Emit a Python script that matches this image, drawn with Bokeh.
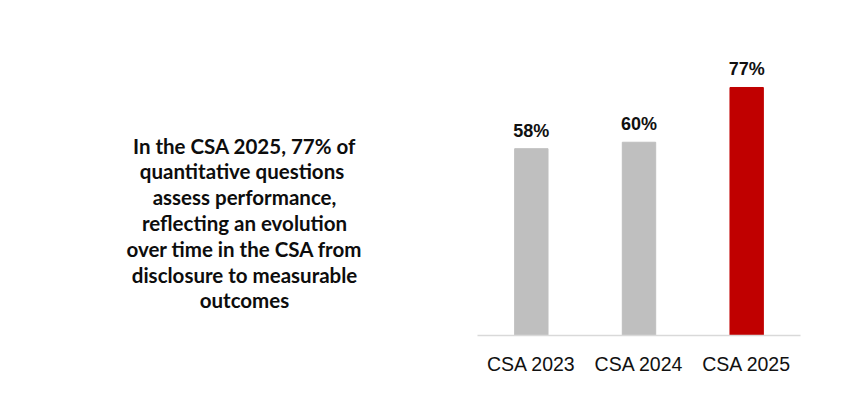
from bokeh.plotting import figure
from bokeh.models import ColumnDataSource, LabelSet, Range1d
from bokeh.layouts import row
from bokeh.embed import file_html
from bokeh.resources import INLINE
from bokeh.core.properties import value

categories = ["CSA 2023", "CSA 2024", "CSA 2025"]
values = [58, 60, 77]
value_labels = ["58%", "60%", "77%"]
colors = ["#bfbfbf", "#bfbfbf", "#c00000"]
note_lines = [
    "In the CSA 2025, 77% of",
    "quantitative  questions",
    "assess performance,",
    "reflecting an evolution",
    "over time in the CSA from",
    "disclosure to measurable",
    "outcomes",
]

H = 389
LW = 477
RW = 373
frame_w = 323
frame_top, frame_bottom = 20, 335

# left text panel (frame is aligned with the chart's frame by the row layout)
t = figure(width=LW, height=H, x_range=Range1d(0, LW),
           y_range=Range1d(frame_bottom, frame_top),
           output_backend="svg", toolbar_location=None,
           min_border_left=0, min_border_right=0,
           min_border_top=frame_top, min_border_bottom=H - frame_bottom)
t.axis.visible = False
t.grid.visible = False
t.outline_line_color = None
tsrc = ColumnDataSource(dict(x=[244] * len(note_lines),
                             y=[145 + 25.8 * i for i in range(len(note_lines))],
                             txt=note_lines))
t.text(x="x", y="y", text="txt", source=tsrc, text_align="center",
       text_baseline="middle", text_font=value("Lato"), text_font_style="bold",
       text_font_size="20.5px", text_color="#0d0d0d")

# chart
p = figure(x_range=categories, y_range=(0, 97.8), width=RW, height=H,
           output_backend="svg", toolbar_location=None,
           min_border_left=0, min_border_right=RW - frame_w,
           min_border_top=frame_top, min_border_bottom=H - frame_bottom)
p.outline_line_color = None
p.grid.visible = False
p.yaxis.visible = False

src = ColumnDataSource(dict(cat=categories, val=values, lab=value_labels, col=colors))
p.vbar(x="cat", top="val", width=0.31, color="col", source=src)

p.add_layout(LabelSet(x="cat", y="val", text="lab", source=src, y_offset=18,
                      text_align="center", text_baseline="middle",
                      text_font=value("Liberation Sans"), text_font_style="bold",
                      text_font_size="18px", text_color="#111111"))

ax = p.xaxis[0]
ax.axis_line_color = "#d9d9d9"
ax.axis_line_width = 1.5
ax.major_tick_line_color = None
ax.minor_tick_line_color = None
ax.major_label_text_font = "Liberation Sans"
ax.major_label_text_font_size = "19.5px"
ax.major_label_text_color = "#111111"
ax.major_label_standoff = 11

layout = row(t, p, spacing=0)
open("out.html", "w").write(file_html(layout, INLINE))
